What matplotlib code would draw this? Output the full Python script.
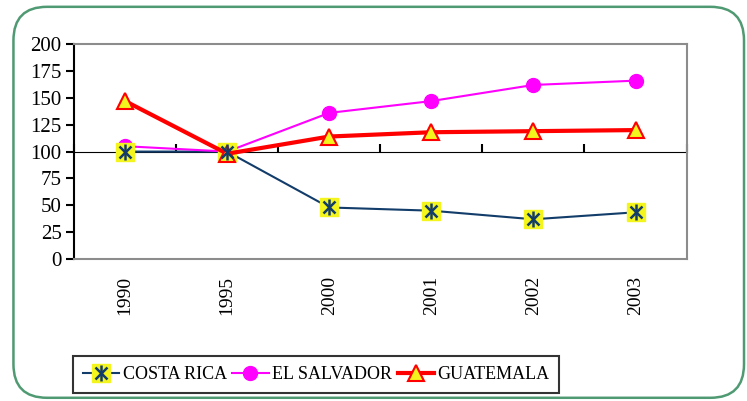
import matplotlib
matplotlib.use('Agg')
import matplotlib.pyplot as plt
from matplotlib.patches import FancyBboxPatch
import numpy as np

years = ['1990', '1995', '2000', '2001', '2002', '2003']
costa_rica = [100, 100, 48, 45, 37, 43.5]
el_salvador = [105, 100, 136, 147, 162, 166]
guatemala = [147, 98, 114, 118, 119, 120]

plt.rcParams['font.family'] = ['Liberation Serif', 'DejaVu Serif']

fig = plt.figure(figsize=(7.47, 4.01), dpi=100)

# rounded green frame around the whole chart
frame = FancyBboxPatch((0.018, 0.008), 0.978, 0.975, boxstyle='round,pad=0,rounding_size=0.045',
                       transform=fig.transFigure, facecolor='none', edgecolor='#4f9a72',
                       linewidth=1.8, mutation_aspect=747 / 401, zorder=-1)
fig.patches.append(frame)

ax = fig.add_axes([0.0991, 0.354, 0.820, 0.536])
ax.patch.set_alpha(0)
x = np.arange(len(years))

navy = '#123c69'
yellow = '#f5f51e'
ax.plot(x, costa_rica, color=navy, lw=1.5, zorder=3)
ax.plot(x, costa_rica, ls='none', marker='s', ms=13, mfc=yellow, mec=yellow, zorder=4)
ax.plot(x, costa_rica, ls='none', marker='x', ms=9, mec=navy, mew=1.8, zorder=5)
ax.plot(x, costa_rica, ls='none', marker='|', ms=11, mec=navy, mew=1.8, zorder=5)
ax.plot(x, el_salvador, color='#ff00ff', lw=1.5, marker='o', ms=10, mfc='#ff00ff', mec='#ff00ff', zorder=3)
ax.plot(x, guatemala, color='#ff0000', lw=3, marker='^', ms=11, mfc=yellow, mec='#ff0000', mew=1.5, zorder=4)

ax.set_xlim(-0.5, len(years) - 0.5)
ax.set_ylim(0, 200)
ax.set_yticks(np.arange(0, 201, 25))
ax.tick_params(axis='y', direction='out', length=6, width=1.5, labelsize=15, pad=3)
ax.set_xticks(x)
ax.set_xticklabels(years, rotation=90, fontsize=14)
ax.tick_params(axis='x', length=0, pad=12)

for s in ['top', 'right', 'bottom']:
    ax.spines[s].set_color('#8c8c8c')
    ax.spines[s].set_linewidth(1.5)
ax.spines['left'].set_color('black')
ax.spines['left'].set_linewidth(1.5)

# category axis crosses at 100
sec = ax.secondary_xaxis(0.5)
sec.set_xticks(np.arange(-0.5, len(years), 1.0))
sec.set_xticklabels([])
sec.tick_params(direction='out', length=6, width=1.5, color='black')
sec.spines['bottom'].set_linewidth(1.5)
sec.spines['bottom'].set_color('black')

# legend handles
h_cr = (plt.Line2D([], [], color=navy, lw=1.5),
        plt.Line2D([], [], ls='none', marker='s', ms=13, mfc=yellow, mec=yellow),
        plt.Line2D([], [], ls='none', marker='x', ms=9, mec=navy, mew=1.8),
        plt.Line2D([], [], ls='none', marker='|', ms=11, mec=navy, mew=1.8))
h_es = plt.Line2D([], [], color='#ff00ff', lw=1.5, marker='o', ms=10, mfc='#ff00ff', mec='#ff00ff')
h_gu = plt.Line2D([], [], color='#ff0000', lw=3, marker='^', ms=11, mfc=yellow, mec='#ff0000', mew=1.5)
leg = fig.legend([h_cr, h_es, h_gu], ['COSTA RICA', 'EL SALVADOR', 'GUATEMALA'],
                 loc='lower left', bbox_to_anchor=(0.098, 0.02), ncol=3, fontsize=13,
                 frameon=True, fancybox=False, edgecolor='black', handlelength=2.0,
                 handletextpad=0.2, columnspacing=0.3, borderpad=0.55, borderaxespad=0)
leg.get_frame().set_linewidth(1.5)

fig.savefig('out.png', dpi=100)
